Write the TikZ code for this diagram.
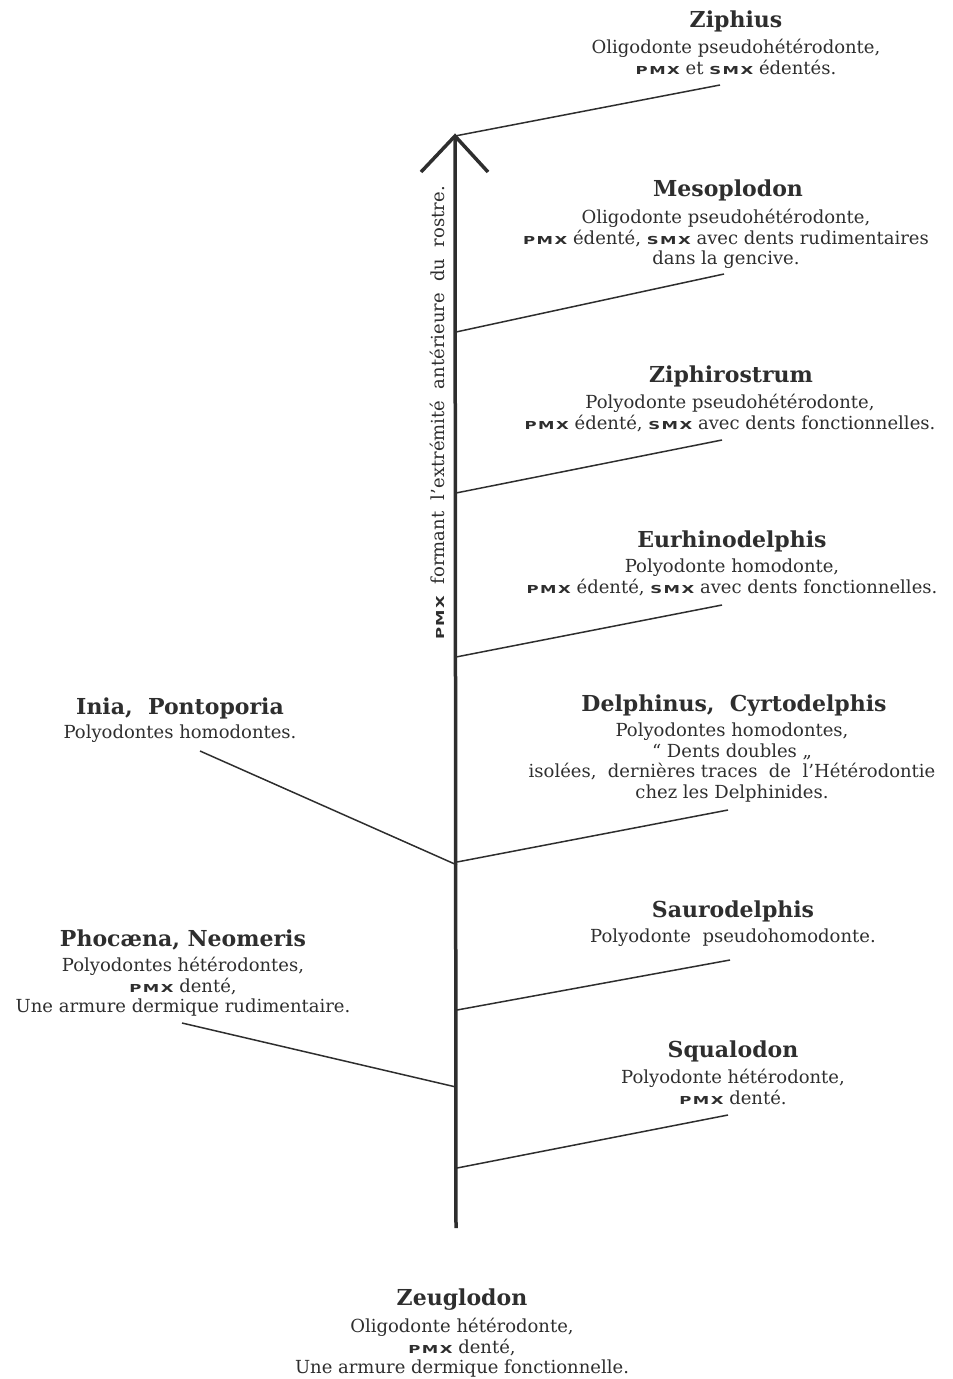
\documentclass[tikz,border=0pt]{standalone}
\usepackage{fontspec}
\setmainfont{DejaVu Serif}
\newfontfamily\smxfont[FakeStretch=1.5]{DejaVu Sans}
\newcommand{\abbr}[1]{{\smxfont\bfseries\fontsize{11}{11}\selectfont #1}}
\newcommand{\pmx}{\abbr{P\kern1.5pt M\kern1.5pt X}}
\newcommand{\smx}{\abbr{S\kern1.5pt M\kern1.5pt X}}
\definecolor{ink}{HTML}{2E2E2E}
\tikzset{
  ttl/.style={anchor=base, inner sep=0pt, text=ink, font=\bfseries\fontsize{22}{24}\selectfont},
  dsc/.style={anchor=north, inner sep=0pt, align=center, text=ink, font=\fontsize{18}{20.5}\selectfont},
  branch/.style={draw=ink, line width=1.5pt},
  axis/.style={draw=ink, line width=3.5pt},
  tip/.style={draw=ink, line width=3.5pt, line join=miter}
}
\begin{document}
\begin{tikzpicture}[x=1pt,y=-1pt]
\useasboundingbox (0,0) rectangle (953,1379);
% axis
\coordinate (top) at (455,136);
\coordinate (bot) at (456,1228);
\coordinate (tl) at (421,172);
\coordinate (tr) at (488,172);
\draw[axis] (bot) -- (top);
\draw[tip] (tl) -- (top) -- (tr);
\node[rotate=90, inner sep=0pt, text=ink, font=\fontsize{18}{20}\selectfont] (axlab) at (437,413)
  {\pmx\ \ formant\ \ l'extrémité\ \ antérieure\ \ du\ \ rostre.};
% branch points on axis
\coordinate (a1) at (456,332);
\coordinate (a2) at (456,493);
\coordinate (a3) at (456,657);
\coordinate (a4) at (457,862);
\coordinate (a5) at (457,865);
\coordinate (a6) at (457,1010);
\coordinate (a7) at (456,1087);
\coordinate (a8) at (457,1168);
% free ends
\coordinate (e0) at (720,85);
\coordinate (e1) at (724,274);
\coordinate (e2) at (722,440);
\coordinate (e3) at (722,605);
\coordinate (e4) at (728,810);
\coordinate (e5) at (200,751);
\coordinate (e6) at (730,960);
\coordinate (e7) at (182,1023);
\coordinate (e8) at (728,1115);
\draw[branch] (top) -- (e0);
\draw[branch] (a1) -- (e1);
\draw[branch] (a2) -- (e2);
\draw[branch] (a3) -- (e3);
\draw[branch] (a4) -- (e4);
\draw[branch] (a5) -- (e5);
\draw[branch] (a6) -- (e6);
\draw[branch] (a7) -- (e7);
\draw[branch] (a8) -- (e8);
% labels
\node[ttl] (t0) at (736,27) {Ziphius};
\node[dsc] (d0) at (736,39) {Oligodonte pseudohétérodonte,\\ \pmx\ et \smx\ édentés.};
\node[ttl] (t1) at (728,196) {Mesoplodon};
\node[dsc] (d1) at (726,209) {Oligodonte pseudohétérodonte,\\ \pmx\ édenté, \smx\ avec dents rudimentaires\\ dans la gencive.};
\node[ttl] (t2) at (731,382) {Ziphirostrum};
\node[dsc] (d2) at (730,394) {Polyodonte pseudohétérodonte,\\ \pmx\ édenté, \smx\ avec dents fonctionnelles.};
\node[ttl] (t3) at (732,547) {Eurhinodelphis};
\node[dsc] (d3) at (732,559) {Polyodonte homodonte,\\ \pmx\ édenté, \smx\ avec dents fonctionnelles.};
\node[ttl] (t4) at (734,711) {Delphinus,\ \ Cyrtodelphis};
\node[dsc] (d4) at (732,723) {Polyodontes homodontes,\\ “ Dents doubles „\\ isolées,\ \ dernières traces\ \ de\ \ l’Hétérodontie\\ chez les Delphinides.};
\node[ttl] (t5) at (180,714) {Inia,\ \ Pontoporia};
\node[dsc] (d5) at (180,725) {Polyodontes homodontes.};
\node[ttl] (t6) at (733,917) {Saurodelphis};
\node[dsc] (d6) at (733,929) {Polyodonte\ \ pseudohomodonte.};
\node[ttl] (t7) at (183,946) {Phocæna,\ Neomeris};
\node[dsc] (d7) at (183,957) {Polyodontes hétérodontes,\\ \pmx\ denté,\\ Une armure dermique rudimentaire.};
\node[ttl] (t8) at (733,1057) {Squalodon};
\node[dsc] (d8) at (733,1069) {Polyodonte hétérodonte,\\ \pmx\ denté.};
\node[ttl] (t9) at (462,1305) {Zeuglodon};
\node[dsc] (d9) at (462,1318) {Oligodonte hétérodonte,\\ \pmx\ denté,\\ Une armure dermique fonctionnelle.};
\end{tikzpicture}
\end{document}
